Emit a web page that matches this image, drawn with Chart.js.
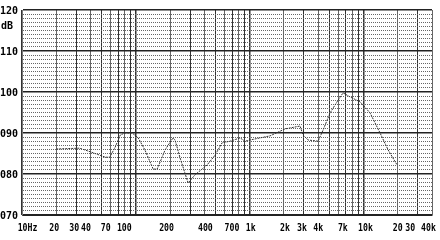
<!DOCTYPE html>
<html>
<head>
<meta charset="utf-8">
<script src="https://cdn.jsdelivr.net/npm/chart.js@4/dist/chart.umd.min.js"></script>
<style>
  html, body { margin: 0; padding: 0; background: #fff; }
  #chart { display: block; }
</style>
</head>
<body>
<canvas id="chart" width="440" height="240"></canvas>
<script>
// frequency response
const freqHz = [20, 32, 40, 54, 59, 66, 73, 80, 93, 105, 120, 142, 154, 181, 212, 221, 245, 288, 331, 423, 497, 572, 673, 824, 911, 1008, 1511, 2047, 2773, 2946, 3261, 3992, 4416, 5088, 5861, 6617, 7624, 9335, 11428, 13991, 16453, 19741];
const levelDb = [86.1, 86.3, 85.4, 84.1, 84.1, 86.6, 89.5, 90.0, 90.0, 88.8, 85.9, 81.2, 81.2, 85.9, 88.8, 88.3, 83.9, 77.8, 79.8, 82.2, 84.6, 87.6, 88.0, 88.8, 88.0, 88.3, 89.3, 91.0, 91.7, 89.5, 88.3, 88.0, 90.7, 94.9, 97.6, 99.8, 98.8, 97.6, 94.9, 90.0, 85.9, 82.2];

// axis ticks
const xGridHz = [10, 20, 30, 40, 50, 60, 70, 80, 90, 100, 200, 300, 400, 500, 600, 700, 800, 900, 1000, 2000, 3000, 4000, 5000, 6000, 7000, 8000, 9000, 10000, 20000, 30000, 40000];
const xLabelHz = [10, 20, 30, 40, 70, 100, 200, 400, 700, 1000, 2000, 3000, 4000, 7000, 10000, 20000, 30000, 40000];
const xLabelText = ['10Hz', '20', '30', '40', '70', '100', '200', '400', '700', '1k', '2k', '3k', '4k', '7k', '10k', '20', '30', '40k'];
const yMin = 70, yMax = 120;

const FONT = { family: '"DejaVu Sans Mono", monospace', size: 10, weight: 'bold' };

// small nudges so the labels sit where the original put them
const labelNudge = [5.5, -2, -2, -4.5, -12.5, -11.5, -3.5, 1, 0, 1, 1, -2, 0, -3, 2, 0, -7.5, -3.5];

const extraText = {
    id: 'extraText',
    afterDraw(chart) {
        const ctx = chart.ctx;
        const xs = chart.scales.x;
        const squeeze = 0.82;
        ctx.save();
        ctx.fillStyle = '#000';
        ctx.font = 'bold 10px "DejaVu Sans Mono", monospace';
        ctx.textBaseline = 'middle';
        ctx.textAlign = 'center';
        xLabelHz.forEach((f, i) => {
            const px = xs.getPixelForValue(f) + labelNudge[i];
            ctx.save();
            ctx.translate(px, chart.chartArea.bottom + 13.5);
            ctx.scale(squeeze, 1);
            ctx.fillText(xLabelText[i], 0, 0);
            ctx.restore();
        });
        ctx.textAlign = 'left';
        ctx.fillText('dB', 1, chart.chartArea.top + 16);
        ctx.restore();
    }
};

new Chart(document.getElementById('chart').getContext('2d'), {
    type: 'line',
    data: {
        datasets: [{
            data: freqHz.map((f, i) => ({ x: f, y: levelDb[i] })),
            borderColor: '#333',
            borderWidth: 1,
            borderDash: [2, 1],
            pointRadius: 0,
            tension: 0,
            fill: false
        }]
    },
    options: {
        responsive: false,
        animation: false,
        devicePixelRatio: 1,
        layout: { padding: { top: 10, right: 8, left: 0, bottom: 0 } },
        plugins: { legend: { display: false }, tooltip: { enabled: false } },
        scales: {
            x: {
                type: 'logarithmic',
                min: 10,
                max: 40000,
                afterBuildTicks: (scale) => { scale.ticks = xGridHz.map(v => ({ value: v })); },
                afterFit: (scale) => { scale.height = 25; },
                ticks: { display: false, autoSkip: false },
                grid: {
                    drawTicks: false,
                    color: (c) => {
                        const v = c.tick ? c.tick.value : 10;
                        const m = Math.round(v / Math.pow(10, Math.floor(Math.log10(v) + 1e-9)));
                        return m % 2 ? '#333' : '#666';
                    },
                    lineWidth: (c) => {
                        const v = c.tick ? c.tick.value : 10;
                        const m = Math.round(v / Math.pow(10, Math.floor(Math.log10(v) + 1e-9)));
                        return m === 1 ? 1.5 : 1;
                    }
                },
                border: { color: '#222', width: 1 }
            },
            y: {
                min: yMin,
                max: yMax,
                afterFit: (scale) => { scale.width = 22; },
                ticks: {
                    stepSize: 1,
                    autoSkip: false,
                    padding: 4,
                    labelOffset: 1,
                    color: '#000',
                    font: FONT,
                    callback: (v) => (v % 10 === 0 ? String(v).padStart(3, '0') : '')
                },
                grid: {
                    drawTicks: false,
                    color: (c) => (c.tick && c.tick.value % 10 === 0 ? '#222' : '#666'),
                    lineWidth: (c) => (c.tick && c.tick.value % 10 === 0 ? 1.5 : 1)
                },
                border: {
                    color: '#777',
                    width: 1,
                    dash: (c) => (c.tick && c.tick.value % 10 !== 0 ? [1, 1] : [])
                }
            }
        }
    },
    plugins: [extraText]
});
</script>
</body>
</html>
